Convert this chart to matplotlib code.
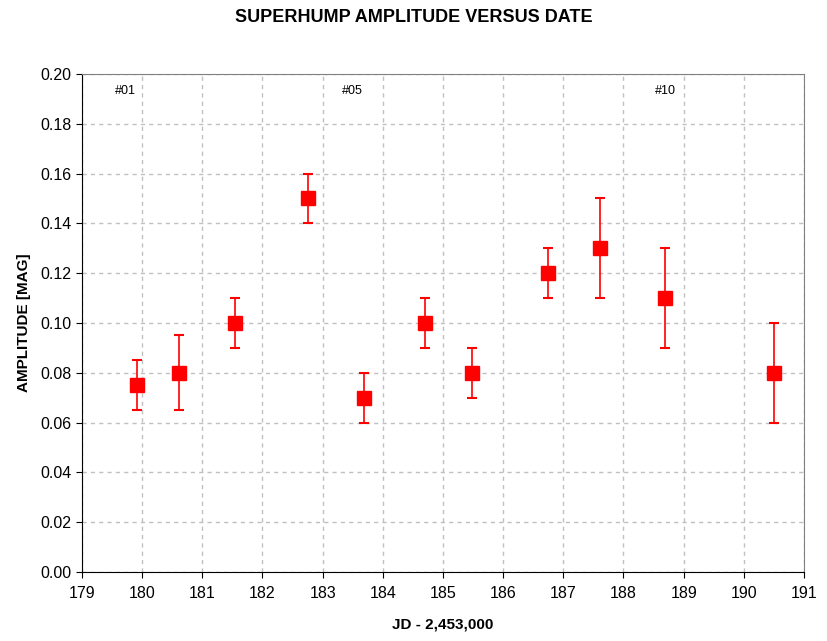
import matplotlib
matplotlib.use('Agg')
import matplotlib.pyplot as plt
import numpy as np

plt.rcParams['font.family'] = ['Liberation Sans', 'DejaVu Sans']

# JD - 2,453,000 and superhump amplitudes
jd = [179.91, 180.61, 181.54, 182.76, 183.69, 184.70, 185.48, 186.74, 187.61, 188.69, 190.50]
amp = [0.075, 0.080, 0.100, 0.150, 0.070, 0.100, 0.080, 0.120, 0.130, 0.110, 0.080]
amp_lo = [0.065, 0.065, 0.090, 0.140, 0.060, 0.090, 0.070, 0.110, 0.110, 0.090, 0.060]
amp_hi = [0.085, 0.095, 0.110, 0.160, 0.080, 0.110, 0.090, 0.130, 0.150, 0.130, 0.100]

labels = ['#01', '#05', '#10']
label_x = [179.73, 183.5, 188.7]
label_y = 0.193

amp = np.array(amp)
yerr = [amp - np.array(amp_lo), np.array(amp_hi) - amp]

fig = plt.figure(figsize=(8.28, 6.41), dpi=100)
ax = fig.add_axes([0.099, 0.1076, 0.872, 0.777])

ax.errorbar(jd, amp, yerr=yerr, fmt='s', color='red', ecolor='red',
            markersize=9.5, elinewidth=1.2, capsize=3.5, capthick=1.5)

for t, x in zip(labels, label_x):
    ax.text(x, label_y, t, fontsize=9, ha='center', va='center')

ax.set_xlim(179, 191)
ax.set_ylim(0, 0.2)
ax.set_xticks(np.arange(179, 192, 1))
ax.set_yticks(np.arange(0, 0.201, 0.02))
ax.set_yticklabels(['%.2f' % v for v in np.arange(0, 0.201, 0.02)])
ax.grid(True, linestyle=(0, (3, 3)), color='#c0c0c0', linewidth=1)
ax.set_axisbelow(True)
ax.tick_params(direction='out', length=4, labelsize=11.5)
ax.tick_params(axis='x', pad=6)
for s in ['top', 'right']:
    ax.spines[s].set_color('#808080')
ax.set_xlabel('JD - 2,453,000', fontsize=11, fontweight='bold', labelpad=12)
ax.set_ylabel('AMPLITUDE [MAG]', fontsize=11, fontweight='bold', labelpad=7)
fig.text(0.5, 1 - 18 / 641, 'SUPERHUMP AMPLITUDE VERSUS DATE', fontsize=13,
         fontweight='bold', ha='center', va='center')

fig.savefig('out.png', dpi=100)
